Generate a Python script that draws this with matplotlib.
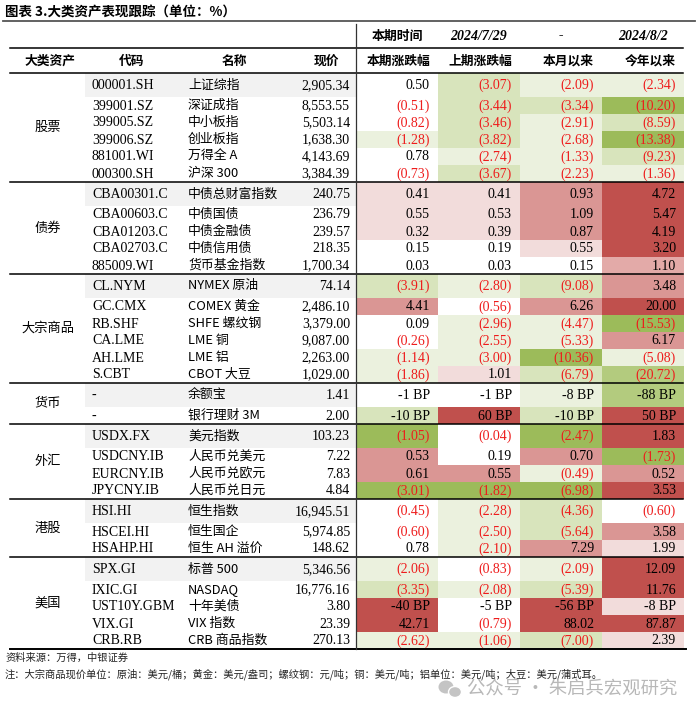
import matplotlib
matplotlib.use('Agg')
import matplotlib.pyplot as plt
from matplotlib.patches import Rectangle, Ellipse

plt.rcParams['font.family'] = ['Liberation Serif', 'Noto Sans CJK SC']

# 数据
groups = ['股票', '债券', '大宗商品', '货币', '外汇', '港股', '美国']
group_sizes = [6, 5, 6, 2, 4, 3, 5]

codes = ['000001.SH', '399001.SZ', '399005.SZ', '399006.SZ', '881001.WI', '000300.SH',
         'CBA00301.C', 'CBA00603.C', 'CBA01203.C', 'CBA02703.C', '885009.WI',
         'CL.NYM', 'GC.CMX', 'RB.SHF', 'CA.LME', 'AH.LME', 'S.CBT',
         '-', '-',
         'USDX.FX', 'USDCNY.IB', 'EURCNY.IB', 'JPYCNY.IB',
         'HSI.HI', 'HSCEI.HI', 'HSAHP.HI',
         'SPX.GI', 'IXIC.GI', 'UST10Y.GBM', 'VIX.GI', 'CRB.RB']
names = ['上证综指', '深证成指', '中小板指', '创业板指', '万得全 A', '沪深 300',
         '中债总财富指数', '中债国债', '中债金融债', '中债信用债', '货币基金指数',
         'NYMEX 原油', 'COMEX 黄金', 'SHFE 螺纹钢', 'LME 铜', 'LME 铝', 'CBOT 大豆',
         '余额宝', '银行理财 3M',
         '美元指数', '人民币兑美元', '人民币兑欧元', '人民币兑日元',
         '恒生指数', '恒生国企', '恒生 AH 溢价',
         '标普 500', 'NASDAQ', '十年美债', 'VIX 指数', 'CRB 商品指数']
prices = [2905.34, 8553.55, 5503.14, 1638.30, 4143.69, 3384.39,
          240.75, 236.79, 239.57, 218.35, 1700.34,
          74.14, 2486.10, 3379.00, 9087.00, 2263.00, 1029.00,
          1.41, 2.00,
          103.23, 7.22, 7.83, 4.84,
          16945.51, 5974.85, 148.62,
          5346.56, 16776.16, 3.80, 23.39, 270.13]
chg_this = [0.50, -0.51, -0.82, -1.28, 0.78, -0.73,
            0.41, 0.55, 0.32, 0.15, 0.03,
            -3.91, 4.41, 0.09, -0.26, -1.14, -1.86,
            '-1 BP', '-10 BP',
            -1.05, 0.53, 0.61, -3.01,
            -0.45, -0.60, 0.78,
            -2.06, -3.35, '-40 BP', 42.71, -2.62]
chg_last = [-3.07, -3.44, -3.46, -3.82, -2.74, -3.67,
            0.41, 0.53, 0.39, 0.19, 0.03,
            -2.80, -0.56, -2.96, -2.55, -3.00, 1.01,
            '-1 BP', '60 BP',
            -0.04, 0.19, 0.55, -1.82,
            -2.28, -2.50, -2.10,
            -0.83, -2.08, '-5 BP', -0.79, -1.06]
chg_month = [-2.09, -3.34, -2.91, -2.68, -1.33, -2.23,
             0.93, 1.09, 0.87, 0.55, 0.15,
             -9.08, 6.26, -4.47, -5.33, -10.36, -6.79,
             '-8 BP', '-10 BP',
             -2.47, 0.70, -0.49, -6.98,
             -4.36, -5.64, 7.29,
             -2.09, -5.39, '-56 BP', 88.02, -7.00]
chg_ytd = [-2.34, -10.20, -8.59, -13.38, -9.23, -1.36,
           4.72, 5.47, 4.19, 3.20, 1.10,
           3.48, 20.00, -15.53, 6.17, -5.08, -20.72,
           '-88 BP', '50 BP',
           1.83, -1.73, 0.52, 3.53,
           -0.60, 3.58, 1.99,
           12.09, 11.76, '-8 BP', 87.87, 2.39]

col_heads = ['本期涨跌幅', '上期涨跌幅', '本月以来', '今年以来']
period = ['本期时间', '2024/7/29', '-', '2024/8/2']

# 条件格式色阶
shades = ['W G2 G1 G1', 'W G2 G2 G4', 'W G2 G1 G2', 'G1 G2 G1 G4', 'W G1 G1 G2', 'W G2 G1 G1',
          'R1 R1 R3 R4', 'R1 R1 R3 R4', 'R1 R1 R3 R4', 'W W R1 R4', 'W W W R2',
          'G2 G1 G2 R3', 'R3 W R3 R4', 'W G1 G1 G4', 'W G1 G1 R3', 'G1 G1 G4 G1', 'G1 R1 G2 G3',
          'W W G1 G3', 'G2 R4 G2 R4',
          'G4 W G4 R4', 'R3 W R3 G4', 'R3 R3 G1 R3', 'G4 G4 G4 R4',
          'W G1 G2 W', 'W G1 G2 R3', 'W G1 R3 R1',
          'G1 W G1 R4', 'G2 G1 G2 R4', 'R4 W R4 R1', 'R4 W R4 R4', 'G1 G1 G2 R1']
palette = {'W': '#FFFFFF', 'G1': '#EBF1DE', 'G2': '#D8E4BC', 'G3': '#B3CB7E', 'G4': '#9CBB5A',
           'R1': '#F2DCDB', 'R2': '#E3AAA8', 'R3': '#DA9694', 'R4': '#C0504D'}

RED = '#EE1C1C'


def fmt(v):
    if isinstance(v, str):
        return v, 'black'
    if v < 0:
        return f'({abs(v):.2f})', RED
    return f'{v:.2f}', 'black'


fig = plt.figure(figsize=(7, 7.18), dpi=100)
ax = fig.add_axes([0, 0, 1, 1])
ax.set_xlim(0, 700)
ax.set_ylim(718, 0)
ax.axis('off')

cjk = ['Noto Sans CJK SC', 'DejaVu Sans']

# 标题
ax.text(5, 12, '图表 3.大类资产表现跟踪（单位：%）', fontsize=9.7, fontweight='bold',
        family=cjk, va='center', ha='left')
ax.plot([3, 695], [20.5, 20.5], color='#555555', lw=1.3)

# 表头
x_left, x_right = 10, 683
x_vline = 356
col_edges = [357, 438, 520, 602, 684]
col_right = [430, 512, 594, 676]

for i, t in enumerate(period):
    cx = (col_edges[i] + col_edges[i + 1]) / 2
    if i == 0:
        ax.text(cx, 36, t, fontsize=9.3, fontweight='bold', style='italic', family=cjk,
                ha='center', va='center')
    else:
        ax.text(cx, 36, t, fontsize=10, fontweight='bold', style='italic',
                ha='center', va='center')
ax.plot([x_left, x_right], [48, 48], color='black', lw=1.1)

ax.text(50, 61, '大类资产', fontsize=9.2, fontweight='bold', family=cjk, ha='center', va='center')
ax.text(132, 61, '代码', fontsize=9.2, fontweight='bold', family=cjk, ha='center', va='center')
ax.text(234, 61, '名称', fontsize=9.2, fontweight='bold', family=cjk, ha='center', va='center')
ax.text(339, 61, '现价', fontsize=9.2, fontweight='bold', family=cjk, ha='right', va='center')
for i, t in enumerate(col_heads):
    ax.text(col_right[i], 61, t, fontsize=9.2, fontweight='bold', family=cjk, ha='right', va='center')
ax.plot([x_left, x_right], [73, 73], color='black', lw=1.1)

# 表体
first_h, other_h = 24, 17
y = 73
k = 0
for g, n in zip(groups, group_sizes):
    y_top = y
    for j in range(n):
        h = first_h if j == 0 else other_h
        yc = y + h / 2
        if j == 0:
            ax.add_patch(Rectangle((85, y), x_vline - 85, h, color='#F2F2F2', lw=0))
        vals = [chg_this[k], chg_last[k], chg_month[k], chg_ytd[k]]
        sh = shades[k].split()
        for c in range(4):
            ax.add_patch(Rectangle((col_edges[c], y), col_edges[c + 1] - col_edges[c], h,
                                   color=palette[sh[c]], lw=0))
            s, col = fmt(vals[c])
            ax.text(col_right[c], yc + 0.5, s, fontsize=10, color=col, ha='right', va='center')
        ax.text(92, yc + 0.5, codes[k], fontsize=10, ha='left', va='center')
        ax.text(188, yc, names[k], fontsize=9.3, family=cjk, ha='left', va='center')
        ax.text(350, yc + 0.5, f'{prices[k]:,.2f}', fontsize=10, ha='right', va='center')
        y += h
        k += 1
    ax.text(48, (y_top + y) / 2, g, fontsize=9.5, family=cjk, ha='center', va='center')
    lw = 1.4 if k == len(codes) else 1.1
    ax.plot([x_left, x_right + (3 if k == len(codes) else 0)], [y, y], color='black', lw=lw)

ax.plot([x_vline, x_vline], [24, y], color='#333333', lw=0.9)

# 注释
ax.text(5, 658, '资料来源：万得，中银证券', fontsize=7.4, family=cjk, color='#222222',
        ha='left', va='center')
ax.text(5, 674, '注：大宗商品现价单位：原油：美元/桶；黄金：美元/盎司；螺纹钢：元/吨；铜：美元/吨；'
        '铝单位：美元/吨；大豆：美元/蒲式耳。', fontsize=7.4, family=cjk, color='#222222',
        ha='left', va='center')

# 水印
ax.add_patch(Ellipse((446, 687), 15, 13, color='#C4C4C4', lw=0))
ax.add_patch(Ellipse((455, 692), 13, 11, color='#C4C4C4', ec='white', lw=1))
ax.text(467, 690, '公众号 · 朱启兵宏观研究', fontsize=13.2, family=cjk, color='#B8B8B8',
        ha='left', va='center')

fig.savefig('out.png', dpi=100)
